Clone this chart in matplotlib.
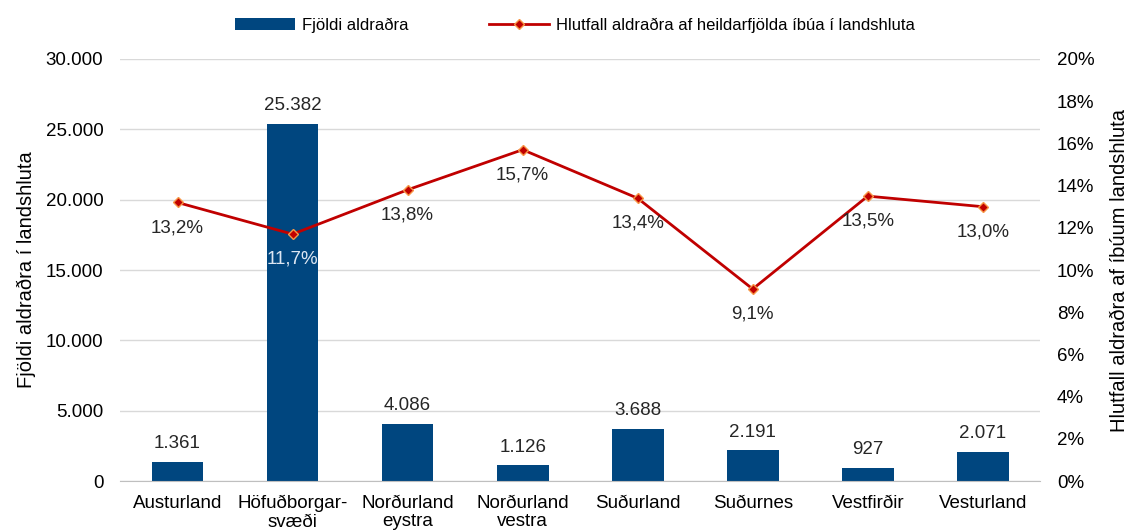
import matplotlib
matplotlib.use("Agg")
from matplotlib import pyplot as plt
from matplotlib.ticker import FuncFormatter

plt.rcParams['font.family'] = ['Liberation Sans', 'DejaVu Sans']

landshlutar = ["Austurland", "Höfuðborgar-\nsvæði", "Norðurland\neystra", "Norðurland\nvestra",
               "Suðurland", "Suðurnes", "Vestfirðir", "Vesturland"]
fjoldi = [1361, 25382, 4086, 1126, 3688, 2191, 927, 2071]
hlutfall = [13.2, 11.7, 13.8, 15.7, 13.4, 9.1, 13.5, 13.0]

blar = "#00467f"
raudur = "#c00000"
fs = 13.5

fig = plt.figure(figsize=(11.32, 5.31), dpi=100)
ax1 = fig.add_axes([0.106, 0.094, 0.813, 0.795])
ax2 = ax1.twinx()

x = list(range(len(landshlutar)))
stolpar = ax1.bar(x, fjoldi, width=0.45, color=blar, label="Fjöldi aldraðra", zorder=2)
ax1.set_ylim(0, 30000)
ax1.set_yticks(range(0, 30001, 5000))
ax1.yaxis.set_major_formatter(FuncFormatter(lambda v, p: f"{int(v):,}".replace(",", ".")))
ax1.set_xlim(-0.5, len(landshlutar) - 0.5)
ax1.set_xticks(x)
ax1.set_xticklabels(landshlutar, fontsize=fs, linespacing=1.1)
ax1.tick_params(axis='both', length=0, labelsize=fs)
ax1.tick_params(axis='x', pad=10)
ax1.tick_params(axis='y', pad=12)
ax1.grid(axis='y', color="#d9d9d9", linewidth=1, zorder=0)
ax1.set_axisbelow(True)
for s in ["top", "right", "left"]:
    ax1.spines[s].set_visible(False)
ax1.spines["bottom"].set_color("#bfbfbf")
ax1.set_ylabel("Fjöldi aldraðra í landshluta", fontsize=14.5, labelpad=7)

for xi, v in zip(x, fjoldi):
    ax1.annotate(f"{v:,}".replace(",", "."), (xi, v), xytext=(0, 7), textcoords="offset points",
                 ha="center", va="bottom", fontsize=fs, color="#262626")

lina, = ax2.plot(x, hlutfall, color=raudur, linewidth=2, marker="D", markersize=5,
                 markerfacecolor=raudur, markeredgecolor="#f79646", markeredgewidth=1,
                 label="Hlutfall aldraðra af heildarfjölda íbúa í landshluta", zorder=3)
ax2.set_ylim(0, 20)
ax2.set_yticks(range(0, 21, 2))
ax2.yaxis.set_major_formatter(FuncFormatter(lambda v, p: f"{int(v)}%"))
ax2.tick_params(axis='y', length=0, labelsize=fs, pad=12)
for s in ["top", "right", "left", "bottom"]:
    ax2.spines[s].set_visible(False)
ax2.set_ylabel("Hlutfall aldraðra af íbúum landshluta", fontsize=14.5, labelpad=11)

for xi, v in zip(x, hlutfall):
    litur = "#dce6f2" if xi == 1 else "#262626"
    ax2.annotate(f"{v:.1f}%".replace(".", ","), (xi, v), xytext=(0, -12), textcoords="offset points",
                 ha="center", va="top", fontsize=fs, color=litur)

fig.legend(handles=[stolpar, lina], loc="upper center", bbox_to_anchor=(0.508, 0.995), ncol=2,
           frameon=False, fontsize=12, handlelength=3.6, handletextpad=0.45, columnspacing=4.8)

fig.savefig("out.png", dpi=100)
